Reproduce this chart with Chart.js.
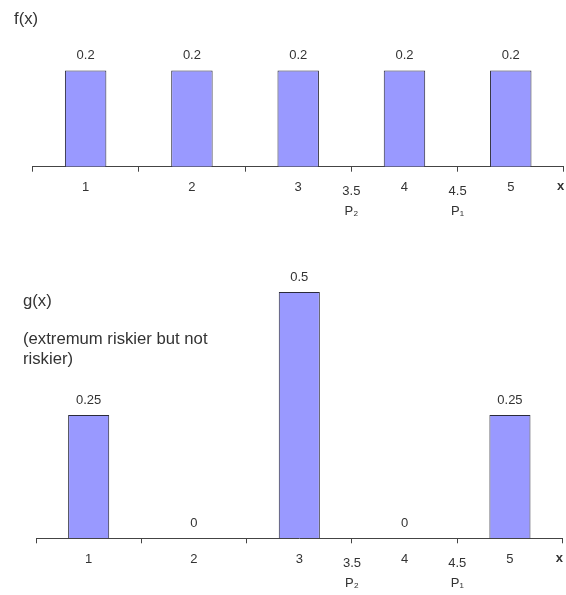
<!DOCTYPE html>
<html>
<head>
<meta charset="utf-8">
<script src="https://cdn.jsdelivr.net/npm/chart.js@4.4.1/dist/chart.umd.min.js"></script>
<style>
  body { margin: 0; background: #fff; width: 566px; height: 595px; position: relative; overflow: hidden;
         font-family: "Liberation Sans", Arial, sans-serif; color: #333; }
  canvas { position: absolute; left: 0; }
  #chartF { top: 0; }
  #chartG { top: 245px; }
  .lbl { position: absolute; font-size: 16.7px; line-height: 20px; white-space: nowrap; z-index: 2; }
</style>
</head>
<body>
<canvas id="chartF" width="566" height="240"></canvas>
<canvas id="chartG" width="566" height="350"></canvas>
<div class="lbl" style="left:14px;top:9px">f(x)</div>
<div class="lbl" style="left:23px;top:291px">g(x)</div>
<div class="lbl" style="left:23px;top:329px">(extremum riskier but not<br>riskier)</div>
<script>
// data
const categories = ['1', '2', '3', '4', '5'];
const fValues = [0.2, 0.2, 0.2, 0.2, 0.2];
const gValues = [0.25, 0, 0.5, 0, 0.25];
// labels under the axis: the x values, P2 = 3.5, P1 = 4.5 and the axis name
const tickValues = [1, 2, 3, 3.5, 4, 4.5, 5, 5.47];
const tickLabels = ['1', '2', '3', ['3.5', 'P\u2082'], '4', ['4.5', 'P\u2081'], '5', 'x'];

const FONT = '"Liberation Sans", Arial, sans-serif';
const barColor = '#9999ff';
const textColor = '#333';

// numbers above the bars
const valueLabels = {
  id: 'valueLabels',
  afterDatasetsDraw(chart) {
    const ctx = chart.ctx;
    const meta = chart.getDatasetMeta(0);
    const data = chart.data.datasets[0].data;
    ctx.save();
    ctx.font = '13px ' + FONT;
    ctx.fillStyle = textColor;
    ctx.textAlign = 'center';
    ctx.textBaseline = 'middle';
    meta.data.forEach((bar, i) => {
      ctx.fillText(String(data[i]), bar.x, bar.y - 15);
    });
    ctx.restore();
  }
};

function tickFont(ctx) {
  const lab = tickLabels[ctx.index];
  if (Array.isArray(lab)) return { family: FONT, size: 13, lineHeight: '20px' };
  if (lab === 'x') return { family: FONT, size: 13, weight: 'bold', lineHeight: '9.6px' };
  return { family: FONT, size: 13, lineHeight: '11.8px' };
}

function makeChart(id, values, yMax, pad) {
  return new Chart(document.getElementById(id), {
    type: 'bar',
    data: {
      labels: categories,
      datasets: [{
        data: values,
        backgroundColor: barColor,
        borderColor: '#2a2a3a',
        borderWidth: 1,
        categoryPercentage: 1,
        barPercentage: 0.39
      }]
    },
    options: {
      responsive: false,
      animation: false,
      layout: { padding: pad },
      plugins: { legend: { display: false }, tooltip: { enabled: false } },
      scales: {
        x: {
          type: 'category',
          offset: true,
          weight: 0,
          grid: { display: true, drawOnChartArea: false, offset: true, tickLength: 5, color: '#444' },
          border: { display: true, color: '#444', width: 1 },
          ticks: { display: false }
        },
        x2: {
          type: 'linear',
          position: 'bottom',
          weight: 1,
          min: 0.5,
          max: 5.5,
          offset: false,
          grid: { display: false, drawTicks: false, offset: false },
          border: { display: false },
          afterBuildTicks: (s) => { s.ticks = tickValues.map(v => ({ value: v })); },
          ticks: {
            autoSkip: false,
            maxRotation: 0,
            padding: 10,
            color: textColor,
            callback: (v, i) => tickLabels[i],
            font: tickFont
          },
          afterFit: (s) => {
            s.height = 48;
            s.paddingLeft = 0;
            s.paddingRight = 0;
          }
        },
        y: { display: false, min: 0, max: yMax }
      }
    },
    plugins: [valueLabels]
  });
}

makeChart('chartF', fValues, 0.25, { top: 46.5, left: 32.5, right: 2.1, bottom: 20.3 });
makeChart('chartG', gValues, 0.55, { top: 22.3, left: 36, right: 3.4, bottom: 3.7 });
</script>
</body>
</html>
